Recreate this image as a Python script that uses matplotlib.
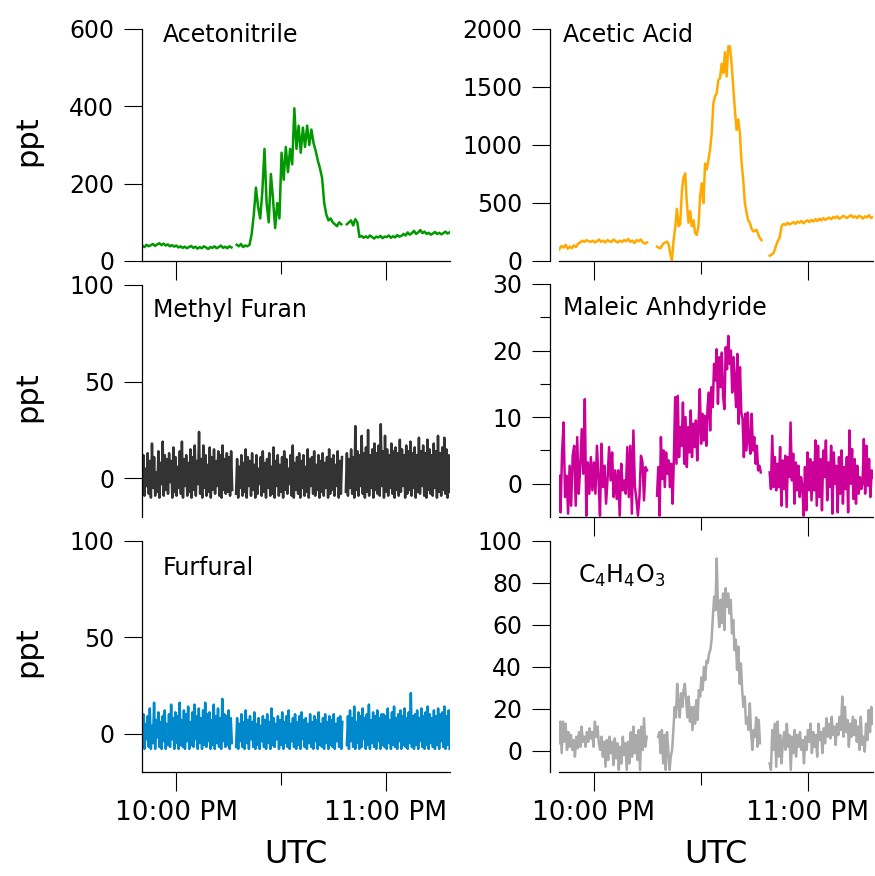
import numpy as np
import matplotlib.pyplot as plt

plt.rcParams['font.family'] = 'DejaVu Sans'

# time in minutes after 21:00 UTC
t_lim = (50.2, 138.3)
hour_ticks = [60, 120]
hour_labels = ['10:00 PM', '11:00 PM']
half_hour = [90]

# each trace has three sampling periods (gaps = instrument backgrounds)
acn_spans = [(50.3, 75.8), (77.3, 107.2), (108.8, 138.2)]
acn_1 = [40, 36, 42, 38, 41, 44, 39, 43, 46, 41, 45, 40, 43, 38, 41, 37, 40, 35, 38, 34, 37, 33,
         36, 39, 34, 37, 32, 36, 33, 38, 35, 31, 36, 34, 38, 33, 36, 40, 34, 37, 33, 38, 35]
acn_2 = [42, 38, 44, 36, 40, 38, 42, 70, 120, 190, 140, 110, 180, 290, 150, 100, 225, 160, 85, 150,
         110, 280, 210, 295, 230, 290, 250, 395, 290, 350, 280, 345, 295, 350, 300, 340, 305, 285,
         260, 240, 215, 150, 120, 105, 110, 100, 95, 90, 100, 95]
acn_3 = [95, 100, 105, 92, 108, 100, 62, 65, 60, 64, 60, 66, 62, 58, 63, 61, 65, 59, 63, 62, 66, 60,
         64, 61, 67, 63, 65, 70, 66, 74, 68, 72, 78, 70, 74, 80, 72, 76, 70, 73, 68, 71, 75, 70, 73,
         69, 72, 76, 71, 74]

aa_spans = [(50.3, 74.9), (77.7, 107.0), (109.3, 138.3)]
aa_1 = [100, 130, 115, 140, 105, 125, 110, 135, 120, 150, 160, 175, 165, 180, 170, 165, 175, 160,
        170, 185, 165, 175, 160, 180, 170, 165, 185, 170, 160, 175, 165, 180, 170, 190, 165, 175,
        155, 180, 170, 185, 160, 150, 160]
aa_2 = [124, 115, 109, 130, 152, 160, 167, 145, 60, 10, 180, 290, 450, 300, 320, 600, 720, 756, 500,
        330, 430, 300, 350, 240, 225, 300, 555, 670, 500, 840, 790, 870, 960, 1100, 1360, 1420, 1445,
        1560, 1575, 1700, 1620, 1800, 1590, 1850, 1850, 1700, 1500, 1300, 1130, 1220, 1100, 850,
        700, 500, 420, 350, 330, 280, 255, 260, 270, 230, 200, 180]
aa_3 = [45, 55, 70, 120, 170, 200, 300, 320, 310, 330, 315, 325, 335, 320, 340, 330, 345, 325, 340,
        350, 335, 355, 340, 360, 345, 365, 350, 370, 355, 365, 375, 360, 380, 370, 385, 365, 375,
        390, 380, 370, 385, 395, 375, 385, 370, 390, 380, 365, 385, 375, 395, 370, 380]

mf_spans = [(50.3, 76.0), (77.1, 107.4), (108.5, 138.2)]
mf_1 = [-6, 12, -9, 5, -4, 13, -8, 9, -10, 18, -5, 11, -9, 3, -7, 14, -10, 8, -3, 19,
        -9, 12, -6, 10, -8, 13, -2, 9, -10, 16, -7, 11, -9, 6, -5, 14, -8, 19, -10, 10,
        -4, 12, -9, 8, -7, 15, -10, 11, -6, 17, -9, 9, -3, 24, -8, 10, -10, 17, -5, 12,
        -9, 7, -7, 16, -10, 11, -6, 15, -8, 9, -4, 14, -9, 12, -10, 17, -6, 10, -8, 13,
        -7, 11, -9, 14, -6]
mf_2 = [-8, 10, -10, 6, -5, 12, -9, 8, -7, 15, -10, 11, -4, 9, -9, 13, -6, 7, -10, 12,
        -8, 5, -3, 11, -9, 14, -7, 8, -10, 10, -5, 13, -9, 6, -8, 16, -10, 9, -4, 12,
        -9, 7, -7, 11, -10, 14, -6, 10, -8, 5, -3, 12, -9, 17, -10, 8, -6, 11, -8, 13,
        -10, 9, -5, 12, -9, 6, -7, 15, -10, 10, -4, 11, -8, 14, -9, 7, -6, 12, -10, 9,
        -7, 13, -9, 8, -5, 11, -10, 15, -8, 10, -6, 12, -9, 7, -4, 14, -10, 9, -8, 11]
mf_3 = [-7, 13, -9, 10, -5, 15, -8, 11, -10, 27, -6, 14, -9, 12, -4, 22, -8, 13, -10, 16,
        -7, 25, -9, 12, -5, 15, -10, 18, -6, 13, -8, 17, -9, 28, -4, 14, -10, 22, -7, 15,
        -9, 12, -5, 18, -8, 14, -10, 16, -6, 13, -9, 20, -7, 15, -4, 12, -10, 17, -8, 14,
        -6, 19, -9, 13, -5, 16, -10, 12, -7, 21, -8, 14, -4, 17, -9, 13, -10, 20, -6, 15,
        -8, 12, -9, 18, -5, 14, -10, 22, -7, 13, -9, 16, -6, 21, -8, 15, -10, 12, -7]

ma_spans = [(50.2, 74.9), (77.7, 106.8), (109.3, 138.3)]
ma_1 = [1.2, -4.3, 4.5, 9.2, -2, 1.2, -4.5, 2.7, -3.3, 4.2, 5.7, -3.3, 7, -1.5, 2.7, 8.2, 1.5,
        12.7, -4.8, 3.2, -1.5, 4, -1, 3.2, -1.5, 5.7, 1, -4.8, 6, -0.5, 2.7, -3, 0.7, 5.5, 0.5,
        4.7, -2, 2, -2.3, 2, -4.8, 3, -1, 0.5, -1.5, 5.5, -2, 5.7, -4.5, 8, -0.5, -2.3, -4.8, -2,
        4.2, 3.2, -2.5, 2.5, 2]
ma_2 = [-1.8, 2.5, -4.8, 7, 0.7, 5, -0.5, 4.7, 1.5, 3.5, -0.5, 3, -3, 3.7, 13, 3, 13.2, 4, 8.5,
        5.7, 12.2, 3, 10, 2.5, 8.5, 4.7, 11, 4, 9, 5.5, 9.5, 3.5, 8.5, 14.2, 6, 10.5, 6.5, 10.2,
        5.7, 11.5, 13.7, 8, 14.5, 11.5, 18, 15.5, 20.2, 12, 19, 14.5, 19.7, 13, 11.2, 20.5, 17.2,
        22.2, 18, 20, 13.7, 19, 15.5, 11.5, 19.5, 9, 17.5, 10.7, 9.7, 4, 10.5, 5, 10.7, 6.5, 4.5,
        10.5, 5, 7, 3, 5.7, 2, 2.7, 1.7]
ma_3 = [1.7, -0.8, 7.2, -0.5, 4, -1, 3, -0.5, 5.5, -3.3, 3.5, -0.8, 4.2, -3.5, 4, 1, 9.2, 0.5,
        4.5, -3, 3.2, -1, 2.7, -2, 1, -0.3, -4.8, 2.5, -4, 4.7, -1, 3.7, -2.5, 3.2, -1, 6.5, -3.3,
        5.7, -2, 3.7, -4, 5, 1, 6.5, -2.5, 3.2, -0.5, 5.7, -4.5, 4.7, 0, 2.7, -4.3, 4, -1.5, 5,
        -3, 2.5, -0.8, 4, -4.3, 8, 0, 5.2, -2.3, 3.7, -3, 2.7, -1.5, 1, -0.8, 0, 6.7, -1.5, 5.7,
        -0.3, 3.7, -2, 2, 1]

ff_spans = [(50.3, 75.9), (77.1, 107.5), (108.8, 138.2)]
ff_1 = [-6, 10, -8, 5, -3, 9, -7, 13, -8, 4, -5, 16, -8, 7, -2, 11, -7, 6, -8, 9,
        -4, 12, -8, 5, -6, 10, -7, 15, -3, 8, -8, 11, -5, 9, -8, 16, -6, 7, -7, 12,
        -8, 10, -4, 14, -8, 6, -6, 11, -7, 15, -3, 9, -8, 13, -5, 8, -8, 12, -6, 16,
        -7, 10, -4, 11, -8, 7, -6, 15, -8, 9, -5, 13, -7, 8, -8, 18, -4, 10, -7, 9,
        -6, 12, -8, 8, -5]
ff_2 = [-7, 8, -8, 5, -4, 10, -7, 6, -8, 12, -5, 7, -8, 9, -3, 6, -7, 11, -8, 5,
        -6, 8, -8, 4, -4, 9, -7, 7, -8, 10, -5, 6, -8, 13, -6, 8, -7, 5, -3, 9,
        -8, 7, -6, 11, -8, 6, -5, 9, -7, 12, -8, 5, -4, 8, -7, 10, -8, 6, -6, 9,
        -8, 11, -3, 7, -7, 8, -8, 5, -5, 10, -7, 6, -8, 9, -4, 7, -8, 11, -6, 5,
        -7, 8, -8, 10, -5, 6, -8, 9, -6, 7, -7, 10, -8, 5, -4, 8, -7, 9, -8, 6]
ff_3 = [-6, 9, -8, 12, -4, 8, -7, 14, -8, 6, -5, 11, -8, 9, -7, 13, -3, 8, -8, 10,
        -6, 15, -8, 7, -5, 11, -7, 9, -8, 12, -4, 8, -8, 10, -6, 10, -7, 9, -8, 13,
        -5, 7, -8, 11, -6, 14, -7, 8, -8, 10, -4, 12, -8, 9, -6, 13, -7, 8, -8, 11,
        -5, 21, -7, 9, -8, 10, -6, 12, -8, 8, -4, 13, -7, 9, -8, 11, -6, 14, -8, 10,
        -5, 8, -7, 12, -8, 9, -6, 13, -8, 10, -4, 11, -7, 14, -8, 9, -6, 12, -8]

c4_spans = [(50.2, 74.8), (78.0, 106.6), (109.3, 138.2)]
c4_1 = [3.7, 14, -1, 14, 4.4, 13, 0.5, 9, 2, 7.6, 0.5, 5.2, -2.7, 6.8, 1.3, 9, 2, 11.6, 4.4, 6.8,
        2, 9, 4.4, 10.8, 6, 9, 2, 14, 6.8, 11.6, 3.7, 0.5, 6.8, -2.7, 4.4, -7.5, 5.2, -4.3, 6.8,
        -1, 4.4, -6.7, 6, -3.5, 3.7, -9, 2, -5.9, 6.8, -1.9, 3.7, -9, 4.4, -5.9, 9, -2.7, 11.6,
        -1, 7.6, -4.3, 10, -9, 11.6, 0.5, 15.6, 2, 6.8]
c4_2 = [6.8, 9, -1, 10, -5.9, 7.6, -9, 9, 0.5, -9, -2.7, 0.5, 10, 21, 16, 32, 22.7, 16, 27.5, 21,
        29, 32, 24.3, 16, 25.9, 14, 21, 10, 21, 13, 24.3, 14.8, 29, 25.9, 35, 29, 40, 33.8, 43,
        42, 46.5, 48, 53, 64, 73.5, 67, 91.7, 68.7, 59, 72, 61, 75, 57.6, 77.5, 68.7, 75, 65.5,
        72, 56, 62.4, 48, 53, 38.6, 49.7, 32, 41.7, 29, 21, 25.9, 13, 16, 10, 22.7, 8.4, 0.5, 10,
        6.8, 16, 2, 14.8, 3.7]
c4_3 = [-5.9, -9, 10, 0.5, 13, -7.5, 14, -2.7, 7.6, -5.9, 3.7, 9, 0.5, 13, 2, 7.6, -9, 6.8, -1,
        10, -2.7, 7.6, 2, 9, 0.5, 5.2, -5.9, 6.8, 0.5, 10, 4.4, 13, -1, 9, 2, 7.6, -2.7, 13, 5.2,
        9, -1, 10.8, 3.7, 15.6, 6.8, 13, 6, 16.3, 7.6, 11.6, 2.9, 13, 7.6, 16.3, 10, 25.9, 6.8,
        21, 9, 14.8, 2, 13, 6.8, 16.3, 7.6, 14.8, 4.4, 11.6, 0.5, 16.3, 2.9, 6.8, -0.3, 13, 5.2,
        19.5, 9, 21, 13]


def trace(spans, parts):
    xs, ys = [], []
    for (t0, t1), vals in zip(spans, parts):
        xs += list(np.linspace(t0, t1, len(vals))) + [np.nan]
        ys += list(vals) + [np.nan]
    return xs, ys


W, H = 875, 876
fig = plt.figure(figsize=(W / 100, H / 100), dpi=100)

# (box in pixels x0, x1, y0, y1), data, style
panels = [
    dict(box=(142, 450, 29, 261), spans=acn_spans, parts=[acn_1, acn_2, acn_3], color='#009900',
         ylim=(0, 600), yticks=[0, 200, 400, 600], yminor=[], name='Acetonitrile',
         name_xy=(0.068, 0.945), left=True, xaxis=True, xlab=False),
    dict(box=(559, 873, 29, 261), spans=aa_spans, parts=[aa_1, aa_2, aa_3], color='#FFAA00',
         ylim=(0, 2000), yticks=[0, 500, 1000, 1500, 2000], yminor=[], name='Acetic Acid',
         name_xy=(0.013, 0.945), left=False, xaxis=True, xlab=False),
    dict(box=(142, 450, 285, 517), spans=mf_spans, parts=[mf_1, mf_2, mf_3], color='#333333',
         ylim=(-20, 100), yticks=[0, 50, 100], yminor=[], name='Methyl Furan',
         name_xy=(0.036, 0.86), left=True, xaxis=False, xlab=False),
    dict(box=(559, 873, 284, 517), spans=ma_spans, parts=[ma_1, ma_2, ma_3], color='#CC0099',
         ylim=(-5, 30), yticks=[0, 10, 20, 30], yminor=[5, 15, 25], name='Maleic Anhdyride',
         name_xy=(0.013, 0.867), left=False, xaxis=True, xlab=False),
    dict(box=(142, 450, 541, 772), spans=ff_spans, parts=[ff_1, ff_2, ff_3], color='#0088CC',
         ylim=(-20, 100), yticks=[0, 50, 100], yminor=[], name='Furfural',
         name_xy=(0.068, 0.853), left=True, xaxis=True, xlab=True),
    dict(box=(559, 873, 541, 772), spans=c4_spans, parts=[c4_1, c4_2, c4_3], color='#AAAAAA',
         ylim=(-10, 100), yticks=[0, 20, 40, 60, 80, 100], yminor=[], name='C$_4$H$_4$O$_3$',
         name_xy=(0.061, 0.817), left=False, xaxis=True, xlab=True),
]

for p in panels:
    x0, x1, y0, y1 = p['box']
    ax = fig.add_axes([x0 / W, 1 - y1 / H, (x1 - x0) / W, (y1 - y0) / H])
    xs, ys = trace(p['spans'], p['parts'])
    ax.plot(xs, ys, color=p['color'], lw=1.8)

    ax.set_xlim(*t_lim)
    ax.set_ylim(*p['ylim'])
    ax.set_yticks(p['yticks'])
    ax.set_yticks(p['yminor'], minor=True)
    ax.set_xticks(hour_ticks)
    ax.set_xticklabels(hour_labels)
    ax.set_xticks(half_hour, minor=True)

    for s in ['top', 'right']:
        ax.spines[s].set_visible(False)
    for s in ['left', 'bottom']:
        ax.spines[s].set_linewidth(0.9)
    if not p['left']:
        ax.spines['left'].set_position(('outward', 6.5))

    ax.tick_params(axis='y', which='major', direction='out', length=13, width=0.8,
                   labelsize=17, pad=7)
    ax.tick_params(axis='y', which='minor', direction='out', length=7, width=0.8)
    ax.tick_params(axis='x', which='major', direction='out', length=13.5, width=0.8,
                   labelsize=19, pad=7)
    ax.tick_params(axis='x', which='minor', direction='out', length=9.5, width=0.8)

    if not p['xaxis']:
        ax.spines['bottom'].set_visible(False)
        ax.tick_params(axis='x', which='both', bottom=False, labelbottom=False)
    elif not p['xlab']:
        ax.tick_params(axis='x', which='both', labelbottom=False)
    else:
        ax.set_xlabel('UTC', fontsize=23, labelpad=9)

    if p['left']:
        ax.set_ylabel('ppt', fontsize=22)
        ax.yaxis.set_label_coords(-0.325, 0.52)

    ax.text(p['name_xy'][0], p['name_xy'][1], p['name'], transform=ax.transAxes,
            fontsize=17, ha='left', va='baseline')

fig.savefig('out.png', dpi=100)
